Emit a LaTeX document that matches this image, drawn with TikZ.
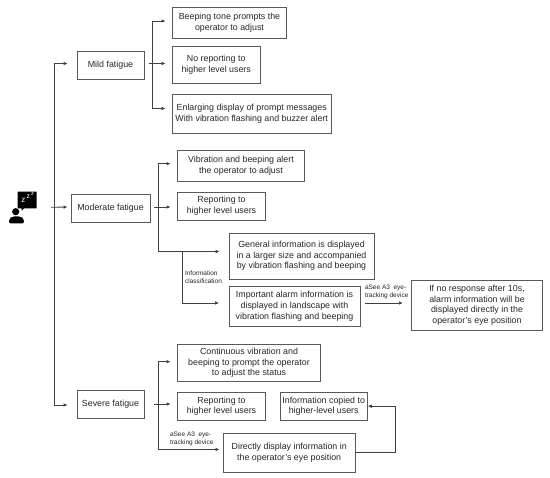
\documentclass[tikz,border=0pt]{standalone}
\usepackage{fontspec}
\setmainfont{Liberation Sans}
\usepackage{xcolor}
\usetikzlibrary{
  calc,
  positioning,
  arrows.meta
}

\begin{document}
\begin{tikzpicture}[>={Latex[length=4pt,width=3.6pt]},x=1pt,y=-1pt]
  \tikzset{
    stepbox/.style={
      draw=black!65,line width=0.8pt,text=black!85,align=center,inner sep=0pt,
      font=\fontsize{8.85}{10.7}\selectfont
    },
    smalltext/.style={
      text=black!85,align=left,inner sep=0pt,
      font=\fontsize{6.5}{8}\selectfont
    },
    link/.style={
      draw=black!75,line width=0.9pt,->
    },
  }
  \useasboundingbox (0,0) rectangle (550,478);

  % fatigue levels
  \node[stepbox,minimum width=67pt,minimum height=28pt] (mild) at (110.5,65) {Mild fatigue};
  \node[stepbox,minimum width=79pt,minimum height=27.5pt] (moderate) at (110.5,208.2) {Moderate fatigue};
  \node[stepbox,minimum width=67pt,minimum height=27.3pt] (severe) at (110.5,404.3) {Severe fatigue};

  % mild
  \node[stepbox,minimum width=114pt,minimum height=30.5pt] (beeping) at (229.5,22.7) {Beeping tone prompts the\\operator to adjust};
  \node[stepbox,minimum width=87.5pt,minimum height=36.5pt] (noreport) at (216.2,64.7) {No reporting to\\higher level users};
  \node[stepbox,minimum width=158.5pt,minimum height=39pt] (enlarge) at (251.7,113.5) {Enlarging display of prompt messages\\With vibration flashing and buzzer alert};

  % moderate
  \node[stepbox,minimum width=127pt,minimum height=31pt] (vibration) at (241,165.5) {Vibration and beeping alert\\the operator to adjust};
  \node[stepbox,minimum width=88pt,minimum height=28pt] (report) at (221.5,206) {Reporting to\\higher level users};
  \node[stepbox,minimum width=145pt,minimum height=46pt] (general) at (301.5,256) {General information is displayed\\in a larger size and accompanied\\by vibration flashing and beeping};
  \node[stepbox,minimum width=131pt,minimum height=39.5pt] (important) at (294.5,306.3) {Important alarm information is\\displayed in landscape with\\vibration flashing and beeping};
  \node[stepbox,minimum width=131.4pt,minimum height=49.3pt] (noresponse) at (477,305.3) {If no response after 10s,\\alarm information will be\\displayed directly in the\\operator's eye position};

  % severe
  \node[stepbox,minimum width=143pt,minimum height=37.4pt] (continuous) at (249,363) {Continuous vibration and\\beeping to prompt the operator\\to adjust the status};
  \node[stepbox,minimum width=88pt,minimum height=27.7pt] (reportsevere) at (221.5,406.2) {Reporting to\\higher level users};
  \node[stepbox,minimum width=87.3pt,minimum height=27.7pt] (copied) at (323.7,406.2) {Information copied to\\higher-level users};
  \node[stepbox,minimum width=131.5pt,minimum height=39pt] (direct) at (289.2,452.5) {Directly display information in\\the operator's eye position};

  % labels
  \node[smalltext] (classlabel) at (203.5,277) {Information\\classification};
  \node[smalltext] (aseeupper) at (386.7,292) {aSee A3\ \ eye-\\tracking device};
  \node[smalltext] (aseelower) at (191.7,439) {aSee A3\ \ eye-\\tracking device};

  % sleeping operator
  \node[minimum width=30pt,minimum height=34pt,inner sep=0pt] (sleeper) at (23,207.5) {};
  \fill[black] (15.7,211.7) circle (3.6);
  \fill[black,rounded corners=2pt] (9,223.5) -- (9,219) -- (12,216.5) -- (21,216.5) -- (24,219) -- (24,223.5) -- cycle;
  \fill[black] (17.7,191.7) -- (36.7,191.7) -- (36.7,208.3) -- (24,208.3) -- (21.7,210.7) -- (21.7,208.3) -- (17.7,208.3) -- cycle;
  \node[text=white,inner sep=0pt,font=\fontsize{8}{8}\selectfont] (zone) at (23.3,200.5) {z};
  \node[text=white,inner sep=0pt,font=\fontsize{7}{7}\selectfont] (ztwo) at (28.3,197) {z};
  \node[text=white,inner sep=0pt,font=\fontsize{5.5}{5.5}\selectfont] (zthree) at (32.6,194.5) {z};

  % branch points
  \coordinate (spine) at (54.5,207);
  \coordinate (mildbus) at (152.5,63.5);
  \coordinate (moderatebus) at (158,207);
  \coordinate (classbus) at (182,251.5);
  \coordinate (severebus) at (158,404);
  \coordinate (returnbus) at (395,452);

  % to the levels
  \draw[link,shorten <=13pt,shorten >=3pt] (sleeper.east) -- (moderate.west |- spine);
  \draw[link,shorten >=9pt] (spine) |- ([yshift=1.5pt]mild.west);
  \draw[link,shorten >=9pt] (spine) |- ([yshift=-0.7pt]severe.west);

  % mild tree
  \draw[link,shorten <=5pt,shorten >=6.5pt] ([yshift=1.5pt]mild.east) -- (noreport.west |- mildbus);
  \draw[link,shorten >=6.5pt] (mildbus) |- ([yshift=1.7pt]beeping.west);
  \draw[link,shorten >=6.5pt] (mildbus) |- ([yshift=5pt]enlarge.west);

  % moderate tree
  \draw[link,shorten <=4pt,shorten >=6.5pt] ([yshift=1.2pt]moderate.east) -- (report.west |- moderatebus);
  \draw[link,shorten >=6.5pt] (moderatebus) |- ([yshift=1.8pt]vibration.west);
  \draw[link,shorten >=9pt] (moderatebus) |- ([yshift=4.5pt]general.west);
  \draw[link,shorten >=9.5pt] (classbus) |- ([yshift=3.3pt]important.west);
  \draw[link,shorten <=5pt,shorten >=8pt] ([yshift=3.3pt]important.east) -- ([yshift=3.3pt]noresponse.west |- important.east);

  % severe tree
  \draw[link,shorten <=10pt,shorten >=6.5pt] ([yshift=0.3pt]severe.east) -- (reportsevere.west |- severebus);
  \draw[link,shorten >=6.5pt] (severebus) |- ([yshift=1.3pt]continuous.west);
  \draw[link,shorten >=3.5pt] (severebus) |- ([yshift=3pt]direct.west);
  \draw[link] (direct.east |- returnbus) -| ($(copied.east)+(27.7pt,0)$) -- (copied.east);

\end{tikzpicture}
\end{document}
